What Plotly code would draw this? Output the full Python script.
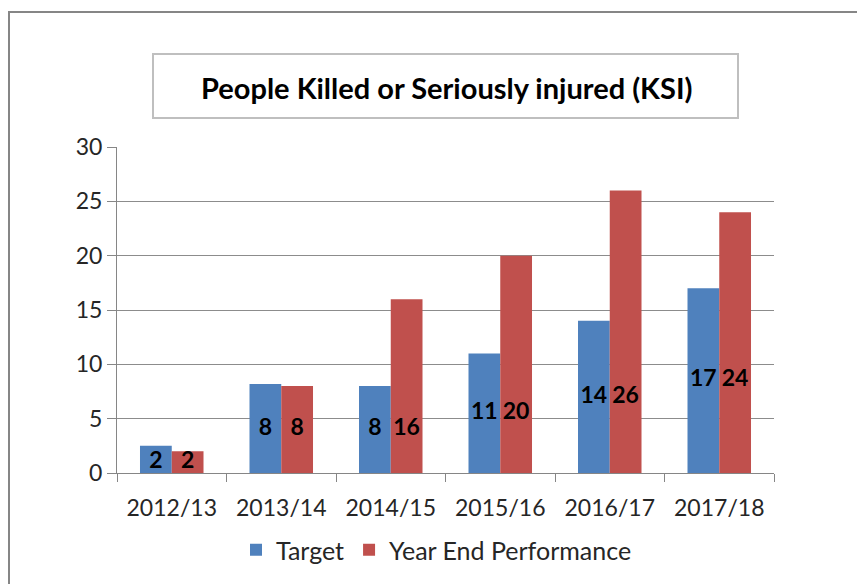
import plotly.graph_objects as go

years = ["2012/13", "2013/14", "2014/15", "2015/16", "2016/17", "2017/18"]
target = [2.5, 8.2, 8, 11, 14, 17]
year_end = [2, 8, 16, 20, 26, 24]
target_labels = ["2", "8", "8", "11", "14", "17"]
year_end_labels = ["2", "8", "16", "20", "26", "24"]

BLUE = "#4F81BD"
RED = "#C0504D"
FONT = "Lato"

# labels sit at half the height of the shorter bar in each pair
label_y = [min(a, b) / 2 for a, b in zip(target, year_end)]

fig = go.Figure()
fig.add_trace(go.Bar(x=years, y=target, name="Target", marker=dict(color=BLUE, line_width=0),
                     offsetgroup="t"))
fig.add_trace(go.Bar(x=years, y=year_end, name="Year End Performance",
                     marker=dict(color=RED, line_width=0), offsetgroup="y"))
for labels, grp in [(target_labels, "t"), (year_end_labels, "y")]:
    fig.add_trace(go.Scatter(
        x=years, y=label_y, text=labels, mode="text", offsetgroup=grp,
        textfont=dict(family=FONT, size=23, color="black", weight="bold"),
        showlegend=False, hoverinfo="skip",
    ))

# page body has an 8px margin, so every target pixel is shifted by it
OFF = 8
FW, FH = 865, 584
L, R, T, B = 117 - OFF, 91 + OFF, 147 - OFF, 111 + OFF
W, H = FW - L - R, FH - T - B


def px_x(x):
    return (x - OFF - L) / W


def px_y(y):
    return (FH - B - (y - OFF)) / H


fig.update_layout(
    width=FW, height=FH,
    margin=dict(l=L, r=R, t=T, b=B),
    paper_bgcolor="white", plot_bgcolor="white",
    barmode="group", bargap=0.42, bargroupgap=0,
    scattermode="group", scattergap=0.42,
    font=dict(family=FONT, color="#262626"),
    showlegend=True,
    legend=dict(orientation="h", x=px_x(236), xanchor="left", y=px_y(550), yanchor="middle",
                font=dict(size=25, family=FONT), itemwidth=30, traceorder="normal"),
    shapes=[
        dict(type="rect", xref="paper", yref="paper",
             x0=px_x(9), x1=px_x(890), y0=px_y(600), y1=px_y(12),
             line=dict(color="#868686", width=2), layer="below"),
        dict(type="rect", xref="paper", yref="paper",
             x0=px_x(153), x1=px_x(738), y0=px_y(118), y1=px_y(54),
             line=dict(color="#BFBFBF", width=2), layer="below"),
    ],
    annotations=[
        dict(text="<b>People Killed or Seriously injured (KSI)</b>", xref="paper", yref="paper",
             x=px_x(446), y=px_y(88), showarrow=False, xanchor="center", yanchor="middle",
             font=dict(family=FONT, size=29, color="black")),
    ],
)
fig.update_yaxes(range=[0, 30], dtick=5, showgrid=True, gridcolor="#8C8C8C", gridwidth=1,
                 showline=True, linecolor="#868686", linewidth=1, ticks="outside",
                 ticklen=9, tickcolor="#868686", tickfont=dict(size=23), zeroline=False)
fig.update_xaxes(showline=True, linecolor="#868686", linewidth=1, ticks="outside",
                 tickson="boundaries", ticklen=8, tickcolor="#868686",
                 tickfont=dict(size=23), ticklabelstandoff=14)

fig.write_html("out.html")
